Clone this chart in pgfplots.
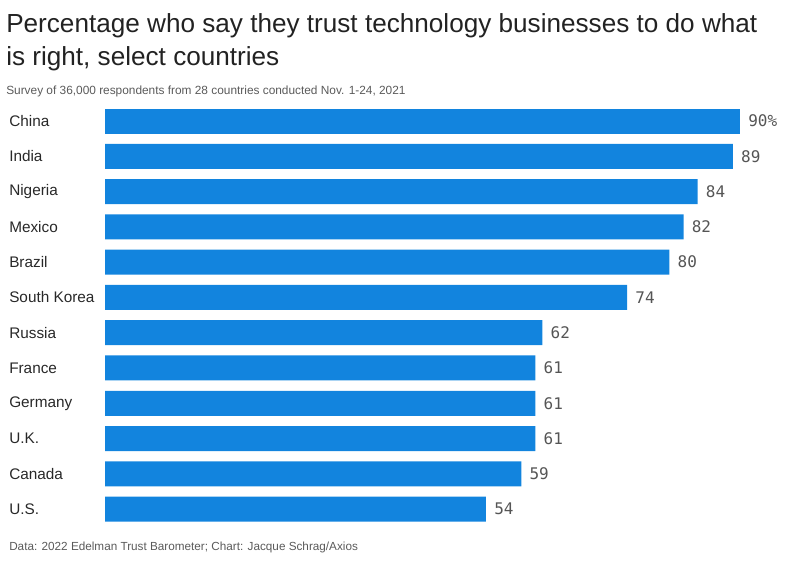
\documentclass[border=0pt]{standalone}
\usepackage{pgfplots}
\pgfplotsset{compat=1.18}
\usepackage{fontspec}
\setmainfont{Liberation Sans}
\newfontfamily\monofont{DejaVu Sans Mono}
\definecolor{barblue}{RGB}{18,132,222}
\definecolor{titlec}{RGB}{34,34,34}
\definecolor{labc}{RGB}{40,40,40}
\definecolor{valc}{RGB}{85,85,85}
\definecolor{subc}{RGB}{90,90,90}
\begin{document}
\begin{tikzpicture}
\useasboundingbox (0,0) rectangle (600pt,-420.75pt);
\node[anchor=base west, inner sep=0pt, font=\fontsize{19.6}{22}\selectfont, text=titlec] at (4.5pt,-24pt) {Percentage who say they trust technology businesses to do what};
\node[anchor=base west, inner sep=0pt, font=\fontsize{19.6}{22}\selectfont, text=titlec] at (4.5pt,-48.75pt) {is right, select countries};
\node[anchor=base west, inner sep=0pt, font=\fontsize{8.9}{10}\selectfont, text=subc] at (4.5pt,-70.5pt) {Survey of 36,000 respondents from 28 countries conducted Nov. 1-24, 2021};
\node[anchor=base west, inner sep=0pt, font=\fontsize{8.8}{10}\selectfont, text=subc] at (6.75pt,-412.5pt) {Data: 2022 Edelman Trust Barometer; Chart: Jacque Schrag/Axios};
\begin{axis}[
  at={(78.75pt,-77.55pt)}, anchor=north west,
  scale only axis, width=476.25pt, height=317.5pt,
  xmin=0, xmax=90, ymin=-0.5, ymax=11.5, y dir=reverse,
  enlargelimits=false, clip=false,
  xbar, bar width=18.75pt, bar shift=0pt,
  axis line style={draw=none},
  xtick=\empty,
  ytick={0,...,11},
  yticklabels={China,India,Nigeria,Mexico,Brazil,South Korea,Russia,France,Germany,U.K.,Canada,U.S.},
  major tick length=0pt,
  ytick style={draw=none},
  yticklabel style={anchor=west, inner sep=0pt, xshift=-72pt, font=\fontsize{11.5}{13}\selectfont, text=labc},
  point meta=x,
  /pgf/number format/assume math mode=true,
  every node near coord/.append style={anchor=west, inner sep=0pt, xshift=6pt, font=\monofont\fontsize{12}{14}\selectfont, text=valc},
]
\addplot[fill=barblue, draw=none, nodes near coords={\pgfmathprintnumber{\pgfplotspointmeta}\%}] coordinates {(90,0)};
\addplot[fill=barblue, draw=none, nodes near coords] coordinates {(89,1) (84,2) (82,3) (80,4) (74,5) (62,6) (61,7) (61,8) (61,9) (59,10) (54,11)};
\end{axis}
\end{tikzpicture}
\end{document}
